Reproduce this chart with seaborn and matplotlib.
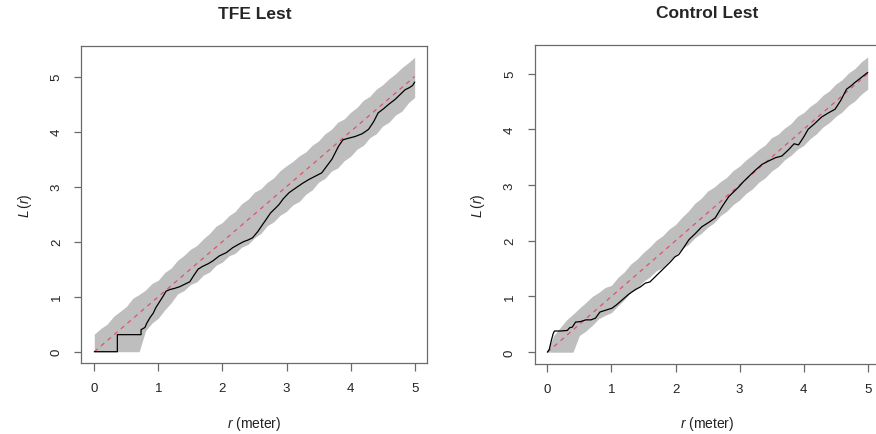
import numpy as np
import pandas as pd
import matplotlib
matplotlib.use("Agg")
import matplotlib.pyplot as plt
import seaborn as sns

# Distance grid for the simulation envelopes (metres)
r_grid = [round(0.1 * i, 1) for i in range(51)]

# TFE plot: envelope bounds of L(r) from simulations
tfe_hi = [0.32, 0.42, 0.50, 0.64, 0.73, 0.82, 0.97, 1.04, 1.12, 1.24,
          1.30, 1.44, 1.52, 1.66, 1.75, 1.86, 1.93, 2.05, 2.15, 2.28,
          2.35, 2.47, 2.55, 2.69, 2.77, 2.90, 2.96, 3.08, 3.16, 3.29,
          3.38, 3.46, 3.56, 3.63, 3.75, 3.83, 3.96, 4.04, 4.17, 4.23,
          4.35, 4.44, 4.57, 4.64, 4.77, 4.85, 4.96, 5.05, 5.16, 5.25,
          5.35]
tfe_lo = [0.00, 0.00, 0.00, 0.00, 0.00, 0.00, 0.00, 0.00, 0.38, 0.52,
          0.61, 0.76, 0.89, 1.05, 1.11, 1.22, 1.27, 1.39, 1.45, 1.57,
          1.63, 1.74, 1.79, 1.90, 1.95, 2.07, 2.15, 2.29, 2.36, 2.48,
          2.55, 2.67, 2.73, 2.86, 2.94, 3.08, 3.15, 3.28, 3.34, 3.47,
          3.55, 3.68, 3.75, 3.89, 3.96, 4.10, 4.17, 4.30, 4.37, 4.52,
          4.62]

# TFE plot: observed L(r)
tfe_obs_r = [0.00, 0.36, 0.36, 0.73, 0.73, 0.79, 0.82, 0.87, 0.92, 0.96,
             1.02, 1.08, 1.12, 1.18, 1.25, 1.33, 1.40, 1.49, 1.55, 1.62,
             1.69, 1.78, 1.85, 1.95, 2.06, 2.16, 2.25, 2.33, 2.40, 2.47,
             2.55, 2.62, 2.68, 2.75, 2.82, 2.88, 2.95, 3.04, 3.15, 3.25,
             3.35, 3.45, 3.55, 3.62, 3.71, 3.81, 3.88, 3.97, 4.07, 4.18,
             4.28, 4.36, 4.43, 4.52, 4.60, 4.69, 4.77, 4.85, 4.92, 4.97,
             5.00]
tfe_obs_L = [0.00, 0.00, 0.31, 0.31, 0.40, 0.44, 0.52, 0.62, 0.70, 0.80,
             0.91, 1.02, 1.10, 1.13, 1.15, 1.18, 1.22, 1.27, 1.38, 1.50,
             1.55, 1.60, 1.65, 1.74, 1.80, 1.89, 1.95, 2.00, 2.03, 2.07,
             2.18, 2.30, 2.40, 2.52, 2.60, 2.67, 2.78, 2.89, 2.98, 3.06,
             3.13, 3.19, 3.25, 3.36, 3.50, 3.73, 3.85, 3.88, 3.91, 3.96,
             4.04, 4.18, 4.34, 4.42, 4.50, 4.58, 4.67, 4.76, 4.80, 4.84,
             4.90]

# Control plot: envelope bounds of L(r)
ctl_hi = [0.02, 0.30, 0.44, 0.58, 0.68, 0.79, 0.89, 1.00, 1.07, 1.16,
          1.20, 1.34, 1.44, 1.58, 1.67, 1.79, 1.89, 2.01, 2.09, 2.21,
          2.29, 2.42, 2.53, 2.67, 2.76, 2.89, 2.96, 3.06, 3.14, 3.26,
          3.34, 3.45, 3.54, 3.64, 3.72, 3.85, 3.91, 4.02, 4.10, 4.23,
          4.30, 4.41, 4.49, 4.61, 4.69, 4.81, 4.89, 5.01, 5.09, 5.21,
          5.30]
ctl_lo = [0.00, 0.00, 0.00, 0.00, 0.00, 0.30, 0.38, 0.48, 0.60, 0.66,
          0.71, 0.83, 0.94, 1.07, 1.15, 1.27, 1.35, 1.46, 1.52, 1.64,
          1.74, 1.86, 1.93, 2.05, 2.13, 2.24, 2.32, 2.45, 2.53, 2.65,
          2.73, 2.85, 2.93, 3.05, 3.13, 3.25, 3.33, 3.45, 3.53, 3.64,
          3.71, 3.83, 3.92, 4.04, 4.12, 4.23, 4.31, 4.43, 4.51, 4.63,
          4.72]

# Control plot: observed L(r)
ctl_obs_r = [0.00, 0.03, 0.06, 0.09, 0.11, 0.20, 0.31, 0.35, 0.39, 0.44,
             0.52, 0.60, 0.68, 0.75, 0.82, 0.90, 1.01, 1.08, 1.17, 1.27,
             1.37, 1.45, 1.53, 1.60, 1.68, 1.76, 1.84, 1.92, 1.99, 2.05,
             2.13, 2.21, 2.31, 2.41, 2.52, 2.62, 2.72, 2.83, 2.91, 2.99,
             3.06, 3.14, 3.25, 3.35, 3.45, 3.56, 3.66, 3.77, 3.85, 3.92,
             4.00, 4.07, 4.17, 4.28, 4.38, 4.49, 4.58, 4.67, 4.74, 4.80,
             4.90, 5.00]
ctl_obs_L = [0.00, 0.05, 0.20, 0.33, 0.38, 0.38, 0.39, 0.44, 0.45, 0.54,
             0.55, 0.58, 0.58, 0.61, 0.72, 0.75, 0.79, 0.85, 0.94, 1.04,
             1.12, 1.17, 1.24, 1.26, 1.35, 1.44, 1.53, 1.62, 1.71, 1.75,
             1.88, 2.02, 2.13, 2.25, 2.33, 2.41, 2.60, 2.79, 2.88, 2.97,
             3.06, 3.15, 3.27, 3.37, 3.43, 3.49, 3.52, 3.64, 3.74, 3.72,
             3.86, 4.00, 4.10, 4.22, 4.29, 4.36, 4.52, 4.72, 4.78, 4.84,
             4.93, 5.02]

# Theoretical L(r) under complete spatial randomness
theo_r = [0.0, 5.0]
theo_L = [0.0, 5.0]

x_ticks = [0, 1, 2, 3, 4, 5]
y_ticks = [0, 1, 2, 3, 4, 5]
titles = ["TFE Lest", "Control Lest"]

sns.set_theme(style="white")
plt.rcParams["font.family"] = ["Liberation Sans", "DejaVu Sans"]
plt.rcParams["mathtext.fontset"] = "custom"
plt.rcParams["mathtext.rm"] = "Liberation Sans"
plt.rcParams["mathtext.it"] = "Liberation Sans:italic"

frame_col = "#6a6a6a"
band_col = "#BEBEBE"
theo_col = "#DF536B"

fig = plt.figure(figsize=(8.76, 4.35), dpi=100)
ax_l = fig.add_axes([0.0930, 0.1621, 0.3950, 0.7310])
ax_r = fig.add_axes([0.6102, 0.1609, 0.3950, 0.7333])

panels = [
    (ax_l, tfe_lo, tfe_hi, tfe_obs_r, tfe_obs_L),
    (ax_r, ctl_lo, ctl_hi, ctl_obs_r, ctl_obs_L),
]

for (ax, lo, hi, obs_r, obs_L), title in zip(panels, titles):
    ax.fill_between(r_grid, lo, hi, color=band_col, linewidth=0, zorder=1)
    sns.lineplot(x=obs_r, y=obs_L, sort=False, estimator=None, ax=ax,
                 color="black", linewidth=0.9, zorder=3)
    sns.lineplot(x=theo_r, y=theo_L, sort=False, estimator=None, ax=ax,
                 color=theo_col, linewidth=0.9, zorder=2)
    ax.lines[-1].set_dashes((3.5, 3.5))

    ymax = max(max(hi), max(obs_L))
    ax.set_xlim(-0.2, 5.2)
    ax.set_ylim(-0.04 * ymax, 1.04 * ymax)
    ax.set_xticks(x_ticks)
    ax.set_yticks(y_ticks)
    ax.set_xticklabels([str(v) for v in x_ticks])
    ax.set_yticklabels([str(v) for v in y_ticks], rotation=90, va="center")

    ax.tick_params(axis="both", direction="out", length=5.4, width=0.9,
                   color=frame_col, labelsize=9.5, labelcolor="#222222",
                   bottom=True, left=True)
    ax.tick_params(axis="x", pad=8)
    ax.tick_params(axis="y", pad=8)
    for sp in ax.spines.values():
        sp.set_visible(True)
        sp.set_color(frame_col)
        sp.set_linewidth(0.9)

    ax.set_xlabel(r"$r$ (meter)", fontsize=10, color="#222222", labelpad=14)
    ax.set_ylabel(r"$L\,(r)$", fontsize=10, color="#222222", labelpad=12)
    ax.set_title(title, fontsize=12.5, fontweight="bold", pad=20)

fig.savefig("out.png", dpi=100)
